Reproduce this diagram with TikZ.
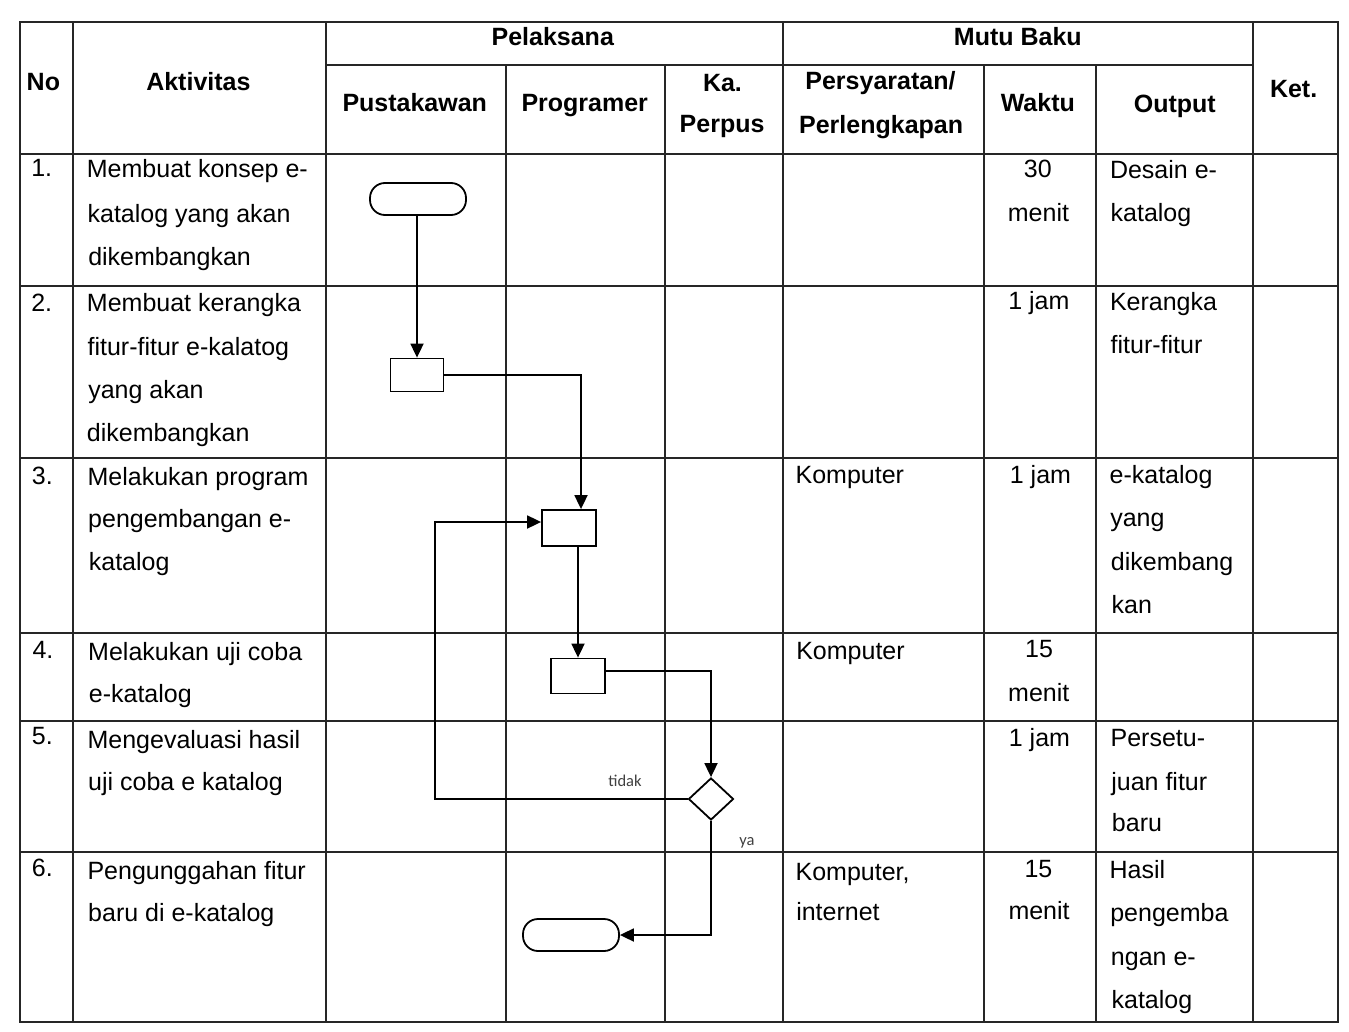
\documentclass[tikz,border=0pt]{standalone}
\usepackage{fontspec}
\setmainfont{Liberation Sans}
\newfontfamily\lblfont{Carlito}
\usetikzlibrary{arrows.meta,shapes.geometric}
\begin{document}
\begin{tikzpicture}[x=1pt,y=-1pt,
  grid/.style={line width=1.3pt, black!85},
  flow/.style={line width=1.8pt, -{Triangle[length=14pt,width=13pt]}},
  hd/.style={font=\fontsize{25}{30}\selectfont\bfseries, inner sep=0pt, anchor=base},
  tx/.style={font=\fontsize{25}{30}\selectfont, inner sep=0pt, anchor=base west},
  tc/.style={font=\fontsize{25}{30}\selectfont, inner sep=0pt, anchor=base},
  term/.style={draw, line width=1.8pt, rounded corners=15pt, minimum width=96pt, minimum height=32pt, inner sep=0pt},
  proc/.style={draw, line width=1.8pt, minimum width=54pt, minimum height=35pt, inner sep=0pt},
  dec/.style={draw, diamond, line width=1.8pt, minimum width=45pt, minimum height=42pt, inner sep=0pt},
  lbl/.style={font=\lblfont\fontsize{16.5}{18}\selectfont, text=black!75, inner sep=0pt, anchor=base}
]
\fill[white] (0,0) rectangle (1349,1032);
\useasboundingbox (0,0) rectangle (1349,1032);

% table grid
\draw[grid] (20,22) rectangle (1338,1022);
\draw[grid] (326,65) -- (1253,65);
\foreach \y in {154,286,458,633,721,852} \draw[grid] (20,\y) -- (1338,\y);
\foreach \x in {73,326,783,1253} \draw[grid] (\x,22) -- (\x,1022);
\foreach \x in {506,665,984,1096} \draw[grid] (\x,65) -- (\x,1022);

\begin{scope}[rotate around={0.87:(680,522)}]
% header
\node[hd] (hNo) at (50,81) {No};
\node[hd] (hAkt) at (205,83) {Aktivitas};
\node[hd] (hPel) at (560,44) {Pelaksana};
\node[hd] (hMutu) at (1025,51) {Mutu Baku};
\node[hd] (hPus) at (421,108) {Pustakawan};
\node[hd] (hProg) at (591,110) {Programer};
\node[hd] (hKa) at (729,92) {Ka.};
\node[hd] (hPerp) at (728,133) {Perpus};
\node[hd] (hPers) at (887,93) {Persyaratan/};
\node[hd] (hPerl) at (887,137) {Perlengkapan};
\node[hd] (hWak) at (1044,117) {Waktu};
\node[hd] (hOut) at (1181,120) {Output};
\node[hd] (hKet) at (1300,107) {Ket.};

% row 1
\node[tc] (n1) at (47,167) {1.};
\node[tx] (a1a) at (92,169) {Membuat konsep e-};
\node[tx] (a1b) at (92,214) {katalog yang akan};
\node[tx] (a1c) at (92,257) {dikembangkan};
\node[tc] (w1a) at (1043,183) {30};
\node[tc] (w1b) at (1043,227) {menit};
\node[tx] (o1a) at (1115,185) {Desain e-};
\node[tx] (o1b) at (1115,228) {katalog};

% row 2
\node[tc] (n2) at (45,302) {2.};
\node[tx] (a2a) at (90,303) {Membuat kerangka};
\node[tx] (a2b) at (90,347) {fitur-fitur e-kalatog};
\node[tx] (a2c) at (90,390) {yang akan};
\node[tx] (a2d) at (88,432) {dikembangkan};
\node[tc] (w2) at (1042,315) {1 jam};
\node[tx] (o2a) at (1113,317) {Kerangka};
\node[tx] (o2b) at (1113,360) {fitur-fitur};

% row 3
\node[tc] (n3) at (43,475) {3.};
\node[tx] (a3a) at (88,477) {Melakukan program};
\node[tx] (a3b) at (88,519) {pengembangan e-};
\node[tx] (a3c) at (88,562) {katalog};
\node[tx] (p3) at (796,485) {Komputer};
\node[tc] (w3) at (1041,489) {1 jam};
\node[tx] (o3a) at (1110,490) {e-katalog};
\node[tx] (o3b) at (1110,533) {yang};
\node[tx] (o3c) at (1110,577) {dikembang};
\node[tx] (o3d) at (1110,620) {kan};

% row 4
\node[tc] (n4) at (41,649) {4.};
\node[tx] (a4a) at (86,651) {Melakukan uji coba};
\node[tx] (a4b) at (86,694) {e-katalog};
\node[tx] (p4) at (794,661) {Komputer};
\node[tc] (w4a) at (1037,663) {15};
\node[tc] (w4b) at (1036,707) {menit};

% row 5
\node[tc] (n5) at (39,735) {5.};
\node[tx] (a5a) at (84,739) {Mengevaluasi hasil};
\node[tx] (a5b) at (84,781) {uji coba e katalog};
\node[tc] (w5) at (1036,752) {1 jam};
\node[tx] (o5a) at (1107,753) {Persetu-};
\node[tx] (o5b) at (1107,797) {juan fitur};
\node[tx] (o5c) at (1107,838) {baru};

% row 6
\node[tc] (n6) at (37,867) {6.};
\node[tx] (a6a) at (82,870) {Pengunggahan fitur};
\node[tx] (a6b) at (82,912) {baru di e-katalog};
\node[tx] (p6a) at (790,882) {Komputer,};
\node[tx] (p6b) at (790,922) {internet};
\node[tc] (w6a) at (1033,883) {15};
\node[tc] (w6b) at (1033,925) {menit};
\node[tx] (o6a) at (1104,885) {Hasil};
\node[tx] (o6b) at (1104,928) {pengemba};
\node[tx] (o6c) at (1104,972) {ngan e-};
\node[tx] (o6d) at (1104,1015) {katalog};

\node[lbl] (ltidak) at (621,786) {tidak};
\node[lbl] (lya) at (742,846) {ya};
\end{scope}

% flowchart (deskewed coordinates)
\node[term] (start) at (418,199) {};
\node[proc, minimum width=53pt, minimum height=33pt] (b2) at (417,375) {};
\node[proc, minimum height=36pt] (b3) at (569,528) {};
\node[proc] (b4) at (578,676) {};
\node[dec] (dia) at (711,799) {};
\node[term] (stop) at (571,935) {};
\coordinate (lp) at (435,522);

\draw[flow] (b2.north |- start.south) -- (b2.north);
\draw[flow] (b2.east) -| ([xshift=12pt]b3.north);
\draw[flow] (b4.north |- b3.south) -- (b4.north);
\draw[flow] ([yshift=5pt]b4.east) -| (dia.north);
\draw[flow] (dia.west) -| (lp) -- (lp -| b3.west);
\draw[flow] (dia.south) |- (stop.east);
\end{tikzpicture}
\end{document}
